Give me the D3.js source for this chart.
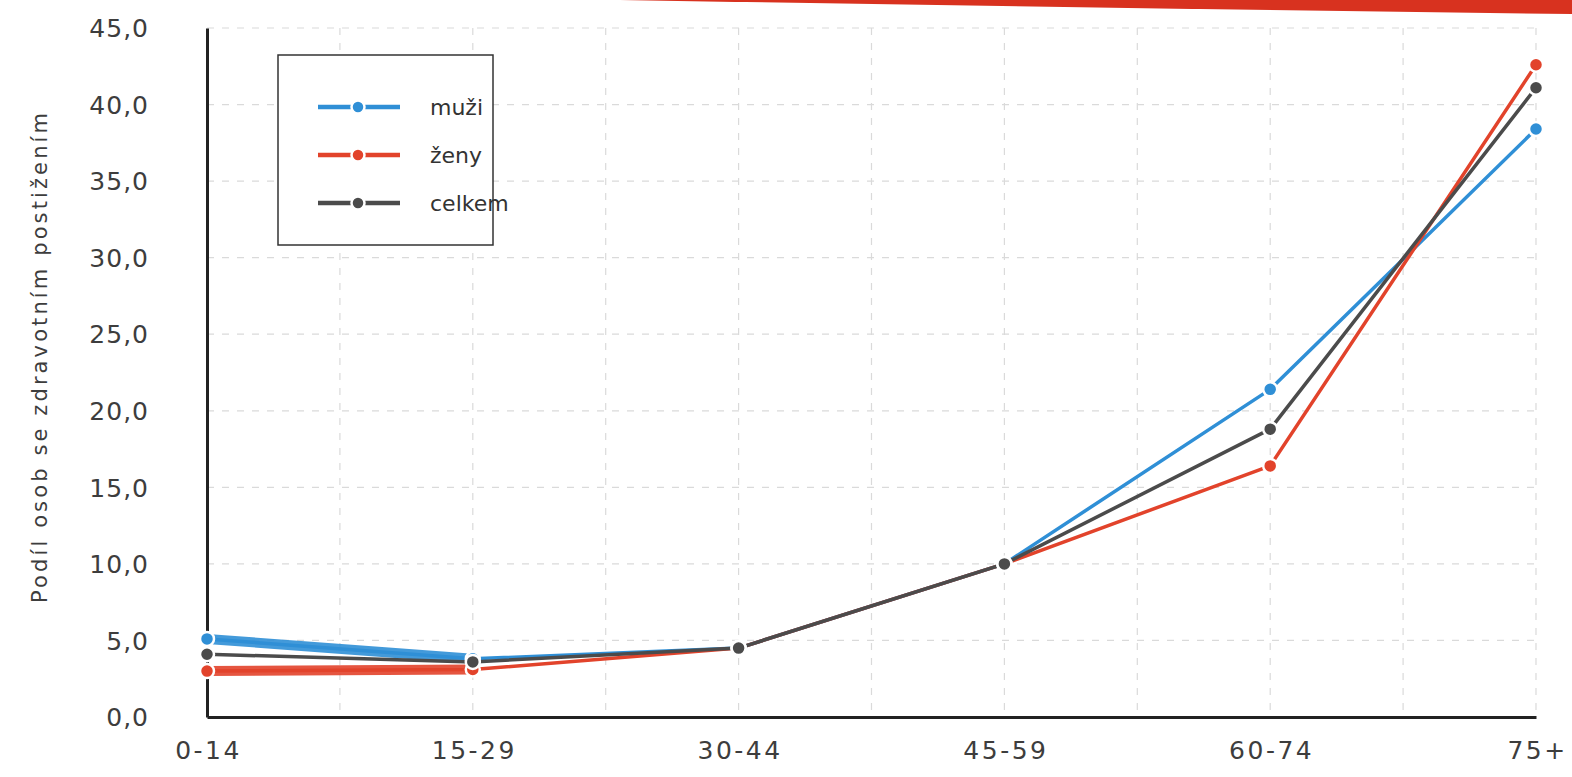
<!DOCTYPE html>
<html><head><meta charset="utf-8">
<script src="https://cdn.jsdelivr.net/npm/d3@7"></script>
<style>
html,body{margin:0;padding:0;background:#fff;}
svg{display:block;font-family:"DejaVu Sans",sans-serif;}
</style></head>
<body>
<svg id="chart" width="1572" height="777"></svg>
<script>
const categories = ["0-14","15-29","30-44","45-59","60-74","75+"];
const muzi   = [5.1, 3.8, 4.5, 10.0, 21.4, 38.4];
const zeny   = [3.0, 3.1, 4.5, 10.0, 16.4, 42.6];
const celkem = [4.1, 3.6, 4.5, 10.0, 18.8, 41.1];
const seriesNames = ["muži","ženy","celkem"];
const seriesColors = ["#2f8fd6","#e2432b","#4b4b4b"];
const yTicks = [0,5,10,15,20,25,30,35,40,45];
const yTitle = "Podíl osob se zdravotním postižením";

const series = [muzi, zeny, celkem];
const svg = d3.select("#chart");
const FONT = "'DejaVu Sans', sans-serif";
const TXT = "#3d3d3d";

// decorative red band at top right
svg.append("path")
  .attr("d","M620,0 L1572,0 L1572,14 Q1100,8 620,0 Z")
  .attr("fill","#d8321f");

const x = d3.scalePoint().domain(categories).range([207, 1536]);
const y = d3.scaleLinear().domain([0,45]).range([717, 28]);

const step = x.step();
// vertical grid (every half category)
const gx = [];
for (let i = 0; i < categories.length; i++) {
  if (i > 0) gx.push(x(categories[i]));
  if (i < categories.length - 1) gx.push(x(categories[i]) + step/2);
}
svg.append("g").selectAll("line").data(gx).join("line")
  .attr("x1", d=>d).attr("x2", d=>d)
  .attr("y1", y(45)).attr("y2", y(0))
  .attr("stroke","#dadada").attr("stroke-width",1.2).attr("stroke-dasharray","7,8");

// horizontal grid
svg.append("g").selectAll("line").data(yTicks.filter(d=>d>0)).join("line")
  .attr("x1", x(categories[0])).attr("x2", x(categories[categories.length-1]))
  .attr("y1", d=>y(d)).attr("y2", d=>y(d))
  .attr("stroke","#dadada").attr("stroke-width",1.2).attr("stroke-dasharray","7,8");

// y axis
const yAxis = d3.axisLeft(y).tickValues(yTicks).tickSize(0).tickPadding(58)
  .tickFormat(d=>d3.format(".1f")(d).replace(".",","));
const gy = svg.append("g").attr("transform",`translate(${x(categories[0])},0)`).call(yAxis);
gy.attr("font-family",FONT);
gy.select(".domain").attr("stroke","#222").attr("stroke-width",3);
gy.selectAll("text").attr("font-size",25).attr("fill",TXT).attr("dy","0.35em")
  .attr("letter-spacing","1px");

// x axis
const xAxis = d3.axisBottom(x).tickSize(0).tickPadding(24);
const gxa = svg.append("g").attr("transform",`translate(0,${y(0)})`).call(xAxis);
gxa.attr("font-family",FONT);
gxa.select(".domain").attr("stroke","#222").attr("stroke-width",3);
gxa.selectAll("text").attr("font-size",25).attr("fill",TXT).attr("letter-spacing","2.5px")
  .attr("dx","1px");

// y title
svg.append("text")
  .attr("transform","translate(47,358) rotate(-90)")
  .attr("text-anchor","middle")
  .attr("font-size",21).attr("fill",TXT)
  .attr("textLength",490).attr("lengthAdjust","spacing")
  .text(yTitle);

// lines
const line = d3.line().x((d,i)=>x(categories[i])).y(d=>y(d));
// thick first segment band (as in reference)
[0,1].forEach(k=>{
  svg.append("path").datum(series[k].slice(0,2))
    .attr("d", line).attr("fill","none")
    .attr("stroke", seriesColors[k]).attr("stroke-width",10).attr("opacity",0.9);
});
series.forEach((s,k)=>{
  svg.append("path").datum(s)
    .attr("d", line)
    .attr("fill","none")
    .attr("stroke", seriesColors[k])
    .attr("stroke-width",3.5)
    .attr("stroke-linejoin","round");
});
series.forEach((s,k)=>{
  svg.append("g").selectAll("circle").data(s).join("circle")
    .attr("cx",(d,i)=>x(categories[i])).attr("cy",d=>y(d))
    .attr("r",7).attr("fill",seriesColors[k])
    .attr("stroke","#fff").attr("stroke-width",2.5);
});

// legend
const lg = svg.append("g").attr("transform","translate(278,55)");
lg.append("rect").attr("width",215).attr("height",190)
  .attr("fill","#fff").attr("stroke","#333").attr("stroke-width",1.5);
seriesNames.forEach((n,k)=>{
  const row = lg.append("g").attr("transform",`translate(0,${52+k*48})`);
  row.append("line").attr("x1",40).attr("x2",122).attr("y1",0).attr("y2",0)
    .attr("stroke",seriesColors[k]).attr("stroke-width",4.5);
  row.append("circle").attr("cx",80).attr("cy",0).attr("r",6.5)
    .attr("fill",seriesColors[k]).attr("stroke","#fff").attr("stroke-width",2.5);
  row.append("text").attr("x",152).attr("y",0).attr("dy","0.35em")
    .attr("font-size",22).attr("fill","#333").text(n);
});
</script>
</body></html>
